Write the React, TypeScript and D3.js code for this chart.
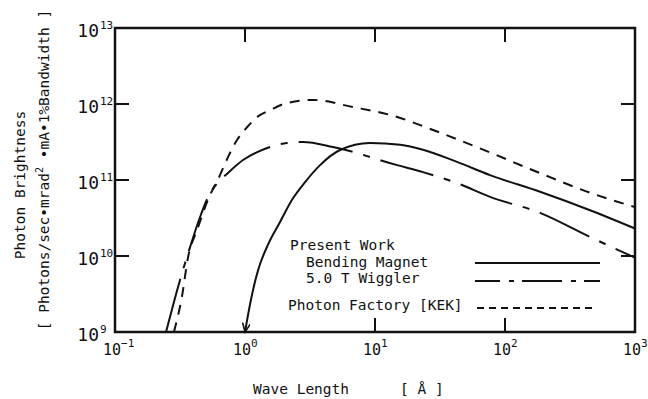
import * as d3 from "d3";

// Photon Factory [KEK] (dashed)
const pfWavelength = [0.284, 0.327, 0.365, 0.428, 0.519, 0.642, 0.74, 0.868, 1.04, 1.24, 1.56, 2.1, 3.34, 6.8, 13.0, 31.6, 76.7, 186, 451, 1000];
const pfBrightness = [1e9, 2.9e9, 9.7e9, 2.2e10, 5.5e10, 1.16e11, 2.0e11, 3.36e11, 4.98e11, 6.75e11, 8.3e11, 1.03e12, 1.13e12, 9.1e11, 7.2e11, 4.2e11, 2.3e11, 1.23e11, 6.8e10, 4.4e10];

// Present work, 5.0 T wiggler (dash-dot)
const wigWavelength = [0.247, 0.316, 0.378, 0.451, 0.538, 0.62, 0.74, 0.966, 1.24, 1.56, 2.1, 2.79, 4.75, 14.8, 23.4, 42.7, 76.7, 186, 451, 1000];
const wigBrightness = [1e9, 4.8e9, 1.31e10, 3.26e10, 6.7e10, 9.3e10, 1.24e11, 1.83e11, 2.33e11, 2.72e11, 3.07e11, 3.16e11, 2.72e11, 1.57e11, 1.27e11, 9.1e10, 6.0e10, 3.7e10, 1.78e10, 9.5e9];

// Present work, bending magnet (solid)
const bmWavelength = [1.0, 1.11, 1.26, 1.5, 1.86, 2.3, 2.9, 3.78, 5.38, 9.16, 15.6, 23.4, 42.7, 76.7, 186, 451, 1000];
const bmBrightness = [1e9, 2.64e9, 6.5e9, 1.4e10, 2.8e10, 5.5e10, 9.4e10, 1.57e11, 2.48e11, 3.07e11, 2.9e11, 2.5e11, 1.73e11, 1.16e11, 7.0e10, 4.0e10, 2.3e10];

const xExponents = [-1, 0, 1, 2, 3];
const yExponents = [9, 10, 11, 12, 13];

const width = 648;
const height = 399;
const margin = { top: 28, left: 115, right: 13, bottom: 67 };
const innerWidth = width - margin.left - margin.right;
const innerHeight = height - margin.top - margin.bottom;

const ink = "#111";
const font = "'DejaVu Sans Mono', monospace";

const x = d3.scaleLog().domain([0.1, 1000]).range([0, innerWidth]);
const y = d3.scaleLog().domain([1e9, 1e13]).range([innerHeight, 0]);

const line = d3
  .line<[number, number]>()
  .x((d) => x(d[0]))
  .y((d) => y(d[1]))
  .curve(d3.curveMonotoneX);

const zip = (a: number[], b: number[]) => a.map((v, i) => [v, b[i]] as [number, number]);

export default function App() {
  const tickLen = 14;
  const bmPath = line(zip(bmWavelength, bmBrightness)) ?? "";
  return (
    <svg
      width={width}
      height={height}
      style={{ position: "absolute", left: 0, top: 0, background: "#fff" }}
      fontFamily={font}
    >
      <defs>
        <marker
          id="arrow"
          markerUnits="userSpaceOnUse"
          markerWidth={12}
          markerHeight={12}
          refX={9}
          refY={4}
          orient="auto-start-reverse"
        >
          <path d="M0,0 L9,4 L0,8" fill="none" stroke={ink} strokeWidth={1.6} />
        </marker>
      </defs>
      <g transform={`translate(${margin.left},${margin.top})`}>
        {/* curves */}
        <path d={line(zip(pfWavelength, pfBrightness)) ?? ""} fill="none" stroke={ink} strokeWidth={2} strokeDasharray="10 8" />
        <path d={line(zip(wigWavelength, wigBrightness)) ?? ""} fill="none" stroke={ink} strokeWidth={2} strokeDasharray="55 11 7 11" />
        <path d={bmPath} fill="none" stroke={ink} strokeWidth={2} markerStart="url(#arrow)" />

        {/* frame */}
        <rect x={0} y={0} width={innerWidth} height={innerHeight} fill="none" stroke={ink} strokeWidth={2.5} />

        {/* y ticks */}
        {yExponents.map((e) => (
          <g key={`y${e}`} transform={`translate(0,${y(10 ** e)})`}>
            {e > 9 && e < 13 && (
              <>
                <line x1={0} x2={tickLen} stroke={ink} strokeWidth={2} />
                <line x1={innerWidth - tickLen} x2={innerWidth} stroke={ink} strokeWidth={2} />
              </>
            )}
            <text x={-16} y={9} textAnchor="end" fontSize={18} fill={ink}>
              10
            </text>
            <text x={-15} y={1} textAnchor="start" fontSize={11} fill={ink}>
              {e}
            </text>
          </g>
        ))}

        {/* x ticks */}
        {xExponents.map((e) => (
          <g key={`x${e}`} transform={`translate(${x(10 ** e)},0)`}>
            {e > -1 && e < 3 && <line y1={0} y2={tickLen} stroke={ink} strokeWidth={2} />}
            {e > 0 && e < 3 && <line y1={innerHeight - tickLen} y2={innerHeight} stroke={ink} strokeWidth={2} />}
            <text x={-12} y={innerHeight + 23} fontSize={15} fill={ink}>
              10
              <tspan fontSize={11} dy={-8}>
                {e === -1 ? "−1" : e}
              </tspan>
            </text>
          </g>
        ))}

        {/* legend */}
        <g fontSize={14.5} fill={ink}>
          <text x={175} y={222}>Present Work</text>
          <text x={191} y={239}>Bending Magnet</text>
          <text x={191} y={255}>5.0 T Wiggler</text>
          <text x={173} y={282}>Photon Factory [KEK]</text>
        </g>
        <line x1={360} x2={485} y1={235} y2={235} stroke={ink} strokeWidth={2} />
        <line x1={360} x2={485} y1={253} y2={253} stroke={ink} strokeWidth={2} strokeDasharray="40 9 5 8" strokeDashoffset={15} />
        <line x1={362} x2={482} y1={280} y2={280} stroke={ink} strokeWidth={2} strokeDasharray="7 5" />
      </g>

      {/* axis titles */}
      <text x={253} y={394} fontSize={14.5} fill={ink}>
        Wave Length
      </text>
      <text x={400} y={394} fontSize={14.5} fill={ink} style={{ whiteSpace: "pre" }}>
        [ Å ]
      </text>
      <text transform="translate(25,185) rotate(-90)" textAnchor="middle" fontSize={14.5} fill={ink}>
        Photon Brightness
      </text>
      <text transform="translate(49,170) rotate(-90)" textAnchor="middle" fontSize={14.5} fill={ink}>
        [ Photons/sec•mrad
        <tspan fontSize={10} dy={-6}>2</tspan>
        <tspan dy={6}> •mA•1%Bandwidth ]</tspan>
      </text>
    </svg>
  );
}
